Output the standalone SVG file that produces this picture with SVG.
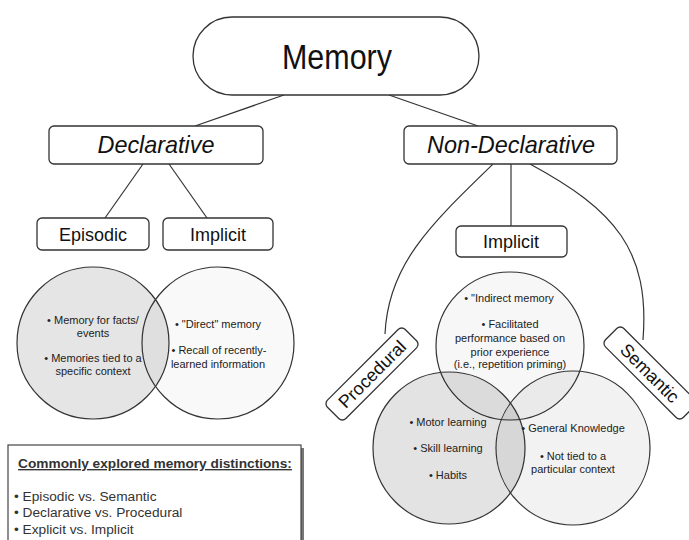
<svg xmlns="http://www.w3.org/2000/svg" width="689" height="540" viewBox="0 0 689 540">
<style>
.box{fill:#fff;stroke:#333;stroke-width:1.3}
.ln{fill:none;stroke:#333;stroke-width:1.2}
.circ{stroke:#333;stroke-width:1.2;fill:#000}
.t{font-family:"Liberation Sans",Arial,sans-serif;fill:#111;text-anchor:middle}
.s{font-family:"Liberation Sans",Arial,sans-serif;fill:#222;text-anchor:middle;font-size:11px}
.lbl{font-size:18px}
.it{font-size:24px;font-style:italic}
.note{font-family:"Liberation Sans",Arial,sans-serif;fill:#333;font-size:13.7px}
</style>
<rect width="689" height="540" fill="#fff"/>
<g id="connectors">
<line class="ln" x1="284" y1="95" x2="195" y2="126"/>
<line class="ln" x1="389" y1="95" x2="478" y2="126"/>
<line class="ln" x1="143" y1="164" x2="105" y2="218"/>
<line class="ln" x1="169" y1="164" x2="207" y2="218"/>
<line class="ln" x1="511" y1="164" x2="511" y2="226"/>
<path class="ln" d="M493,164 C430,225 388,265 385,334"/>
<path class="ln" d="M530,164 C615,210 650,250 643,340"/>
</g>
<g id="memory">
<rect class="box" x="193" y="17" width="286" height="78" rx="39"/>
<text class="t" x="337" y="69" font-size="35" textLength="110" lengthAdjust="spacingAndGlyphs">Memory</text>
</g>
<g id="declarative">
<rect class="box" x="49" y="126" width="214" height="38" rx="5"/>
<text class="t it" x="156" y="153" textLength="117" lengthAdjust="spacingAndGlyphs">Declarative</text>
</g>
<g id="non-declarative">
<rect class="box" x="404" y="126" width="213" height="38" rx="5"/>
<text class="t it" x="511" y="153" textLength="168" lengthAdjust="spacingAndGlyphs">Non-Declarative</text>
</g>
<g id="episodic">
<rect class="box" x="37" y="218" width="112" height="32" rx="5"/>
<text class="t lbl" x="93" y="241">Episodic</text>
</g>
<g id="implicit-left">
<rect class="box" x="163" y="218" width="110" height="32" rx="5"/>
<text class="t lbl" x="218" y="241">Implicit</text>
</g>
<g id="implicit-right">
<rect class="box" x="456" y="226" width="111" height="31" rx="5"/>
<text class="t lbl" x="511" y="248">Implicit</text>
</g>
<g id="episodic-circle">
<circle class="circ" cx="93" cy="343" r="76" fill-opacity="0.1"/>
<text class="s" x="93" y="324">• Memory for facts/</text>
<text class="s" x="93" y="337">events</text>
<text class="s" x="93" y="362">• Memories tied to a</text>
<text class="s" x="93" y="375">specific context</text>
</g>
<g id="implicit-left-circle">
<circle class="circ" cx="218" cy="343" r="76" fill-opacity="0.025"/>
<text class="s" x="218" y="328">• "Direct" memory</text>
<text class="s" x="219" y="354">• Recall of recently-</text>
<text class="s" x="218" y="368">learned information</text>
</g>
<g id="implicit-right-circle">
<circle class="circ" cx="510" cy="346" r="74" fill-opacity="0.03"/>
</g>
<g id="procedural-circle">
<circle class="circ" cx="449" cy="448" r="76" fill-opacity="0.11"/>
</g>
<g id="semantic-circle">
<circle class="circ" cx="573" cy="448" r="77" fill-opacity="0.05"/>
</g>
<g id="implicit-right-text">
<text class="s" x="509" y="302">• "Indirect memory</text>
<text class="s" x="510" y="328">• Facilitated</text>
<text class="s" x="510" y="342">performance based on</text>
<text class="s" x="510" y="356">prior experience</text>
<text class="s" x="510" y="368">(i.e., repetition priming)</text>
</g>
<g id="procedural-text">
<text class="s" x="448" y="426">• Motor learning</text>
<text class="s" x="448" y="452">• Skill learning</text>
<text class="s" x="448" y="479">• Habits</text>
</g>
<g id="semantic-text">
<text class="s" x="573" y="432">• General Knowledge</text>
<text class="s" x="573" y="460">• Not tied to a</text>
<text class="s" x="573" y="473">particular context</text>
</g>
<g id="procedural" transform="translate(372,374) rotate(-45)">
<rect class="box" x="-55" y="-13" width="110" height="26" rx="5"/>
<text class="t lbl" x="0" y="6.5">Procedural</text>
</g>
<g id="semantic" transform="translate(650,373) rotate(45)">
<rect class="box" x="-55" y="-13" width="110" height="26" rx="5"/>
<text class="t lbl" x="0" y="6.5">Semantic</text>
</g>
<g id="distinctions">
<rect x="11" y="448" width="293" height="100" fill="#777"/>
<rect x="8" y="445" width="293" height="100" fill="#fff" stroke="#444" stroke-width="1.2"/>
<text class="note" x="155" y="468" text-anchor="middle" font-weight="bold" text-decoration="underline">Commonly explored memory distinctions:</text>
<text class="note" x="14" y="501">• Episodic vs. Semantic</text>
<text class="note" x="14" y="517">• Declarative vs. Procedural</text>
<text class="note" x="14" y="534">• Explicit vs. Implicit</text>
</g>
</svg>
